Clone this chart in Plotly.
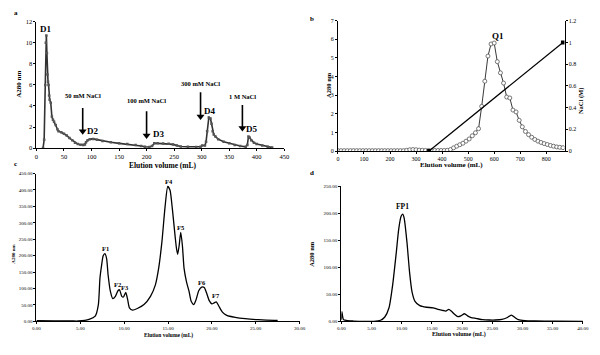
import plotly.graph_objects as go

# ---------------- Panel a: DEAE elution ----------------
a_vol = [12, 14, 16, 17, 18, 19, 20, 21, 22, 23, 24, 26, 28, 30, 32, 35, 38, 40, 45, 50, 55, 60, 65, 70, 75,
         80, 85, 88, 90, 93, 97, 103, 110, 120, 135, 150, 165, 180, 190, 197, 205, 210, 214, 220, 230, 240,
         248, 255, 262, 275, 290, 298, 301, 306, 308, 310, 313, 316, 318, 320, 322, 325, 330, 340, 350, 360,
         370, 380, 383, 385, 387, 390, 395, 400, 410, 420, 428]
a_abs = [0.0, 0.8, 6.0, 10.0, 10.7, 9.0, 7.0, 6.3, 6.0, 5.0, 4.6, 4.3, 3.0, 2.7, 2.5, 2.2, 1.8, 1.6, 1.5, 1.35,
         1.2, 0.95, 0.75, 0.5, 0.38, 0.32, 0.3, 0.35, 0.55, 0.75, 0.85, 0.87, 0.8, 0.68, 0.55, 0.45, 0.38, 0.3,
         0.2, 0.12, 0.1, 0.2, 0.45, 0.45, 0.43, 0.42, 0.35, 0.25, 0.15, 0.12, 0.1, 0.12, 0.25, 0.25, 0.6, 1.6,
         2.9, 2.8, 2.3, 1.6, 1.3, 1.1, 0.85, 0.6, 0.45, 0.3, 0.2, 0.12, 0.3, 1.1, 1.0, 0.75, 0.5, 0.38, 0.25,
         0.12, 0.05]
a_peaks = ["D1", "D2", "D3", "D4", "D5"]
a_peak_x = [18, 103, 223, 315, 392]
a_peak_y = [11.3, 1.6, 1.3, 3.5, 1.8]
a_steps = ["50 mM NaCl", "100 mM NaCl", "300 mM NaCl", "1 M NaCl"]
a_step_x = [84, 200, 298, 374]
a_step_top = [3.8, 3.5, 5.3, 4.1]
a_step_head = [1.6, 1.2, 3.0, 1.9]
a_step_text_y = [5.0, 4.5, 6.1, 4.9]

# ---------------- Panel b: Q-Sepharose ----------------
b_vol = list(range(0, 865, 12))
b_abs = [0.02] * 22 + [0.04, 0.07, 0.08, 0.07, 0.05, 0.04, 0.03, 0.03, 0.03, 0.03, 0.03, 0.03, 0.03, 0.04,
                       0.08, 0.17, 0.26, 0.34, 0.42, 0.53, 0.65, 0.82, 0.98, 1.2, 2.4, 3.75, 5.1, 5.75, 5.8,
                       4.8, 4.2, 3.65, 2.9, 2.85, 2.2, 2.1, 1.65, 1.3, 1.05, 0.88, 0.74, 0.62, 0.53, 0.46,
                       0.4, 0.35, 0.3, 0.26, 0.22, 0.2, 0.18]
b_nacl_vol = [350, 864]
b_nacl_conc = [0, 1]

# ---------------- Panel c: gel filtration ----------------
c_vol = [0, 2, 4, 4.8, 6.0, 6.7, 7.06, 7.24, 7.43, 7.6, 7.8, 8.0, 8.17, 8.43, 8.7, 9.0, 9.29, 9.47, 9.73,
         9.92, 10.18, 10.4, 10.6, 10.96, 11.5, 12.26, 13.0, 13.56, 13.93, 14.3, 14.67, 14.97, 15.23, 15.5,
         15.8, 15.97, 16.1, 16.27, 16.45, 16.64, 16.83, 17.1, 17.4, 17.64, 17.94, 18.2, 18.5, 18.84, 19.13,
         19.4, 19.7, 20.0, 20.25, 20.5, 20.8, 21.2, 21.7, 22.66, 23.8, 25.26, 27.1, 27.5]
c_abs = [2, 1, 1, 1, 6, 16, 51, 131, 171, 199, 206, 191, 141, 91, 69, 76, 93, 96, 76, 74, 88, 66, 41, 34,
         39, 51, 76, 111, 161, 241, 351, 411, 399, 341, 261, 221, 204, 231, 271, 231, 161, 121, 91, 61, 51,
         66, 93, 104, 103, 86, 63, 53, 56, 59, 46, 28, 18, 12, 8, 5, 3, 3]
c_peaks = ["F1", "F2", "F3", "F4", "F5", "F6", "F7"]
c_peak_x = [7.84, 9.29, 10.14, 15.08, 16.5, 18.85, 20.5]
c_peak_y = [222, 112, 102, 425, 285, 118, 78]

# ---------------- Panel d: second gel filtration ----------------
d_vol = [0, 0.1, 0.2, 0.35, 0.6, 1.0, 2.0, 5.4, 6.5, 7.2, 7.9, 8.5, 9.1, 9.5, 9.9, 10.16, 10.4, 10.87, 11.3,
         11.7, 12.2, 13.0, 14.1, 15.2, 16.0, 16.85, 17.3, 17.8, 18.2, 18.75, 19.3, 19.8, 20.4, 20.9, 21.5,
         22.3, 23.4, 24.5, 25.5, 26.6, 27.4, 28.15, 28.8, 29.3, 30.4, 32.0, 35.3, 40.0]
d_abs = [3, 18, 10, 3, 2, 1, 0.5, 0, 2, 8, 25, 67, 127, 170, 194, 198, 191, 146, 91, 55, 37, 29, 26, 25, 22,
         20, 19, 22, 19, 13, 8.5, 10, 14, 10, 7, 5.4, 3, 2.4, 2.4, 3.6, 6.6, 11.5, 6.6, 3, 1.2, 0.6, 0.3, 0]
d_peaks = ["FP1"]
d_peak_x = [10.2]
d_peak_y = [212]

SERIF = "Liberation Serif"

fig = go.Figure()
fig.add_trace(go.Scatter(x=a_vol, y=a_abs, xaxis="x", yaxis="y", mode="lines+markers",
                         line=dict(color="#333333", width=1.6),
                         marker=dict(size=2.5, color="#555555", symbol="square")))
# arrow shafts and heads of the NaCl step annotations
shaft_x, shaft_y = [], []
for x, top, head in zip(a_step_x, a_step_top, a_step_head):
    shaft_x += [x, x, None]
    shaft_y += [top, head, None]
fig.add_trace(go.Scatter(x=shaft_x, y=shaft_y, xaxis="x", yaxis="y", mode="lines",
                         line=dict(color="black", width=1.6)))
fig.add_trace(go.Scatter(x=a_step_x, y=a_step_head, xaxis="x", yaxis="y", mode="markers",
                         marker=dict(symbol="triangle-down", size=7, color="black")))
fig.add_trace(go.Scatter(x=b_nacl_vol, y=b_nacl_conc, xaxis="x2", yaxis="y5", mode="lines+markers",
                         line=dict(color="black", width=1.2),
                         marker=dict(size=4, color="black", symbol="square")))
fig.add_trace(go.Scatter(x=b_vol, y=b_abs, xaxis="x2", yaxis="y2", mode="lines+markers",
                         line=dict(color="#222222", width=0.9),
                         marker=dict(size=4, color="white", symbol="circle",
                                     line=dict(color="#555555", width=0.8))))
fig.add_trace(go.Scatter(x=c_vol, y=c_abs, xaxis="x3", yaxis="y3", mode="lines",
                         line=dict(color="black", width=1.3, shape="spline", smoothing=0.6)))
fig.add_trace(go.Scatter(x=d_vol, y=d_abs, xaxis="x4", yaxis="y4", mode="lines",
                         line=dict(color="black", width=1.3, shape="spline", smoothing=0.6)))


def ax(domain, rng, anchor, size, **kw):
    d = dict(domain=domain, range=rng, anchor=anchor, showline=True, linecolor="black", linewidth=1,
             ticks="outside", ticklen=2, tickwidth=1, tickcolor="black", showgrid=False, zeroline=False,
             tickfont=dict(family=SERIF, size=size, color="black"), fixedrange=True)
    d.update(kw)
    return d


fig.update_layout(
    width=600, height=355, margin=dict(l=0, r=0, t=0, b=0),
    paper_bgcolor="white", plot_bgcolor="white", showlegend=False,
    xaxis=ax([0.055, 0.475], [0, 450], "y", 6.5, dtick=50),
    yaxis=ax([0.586, 0.949], [0, 12], "x", 6.5, dtick=2),
    xaxis2=ax([0.566, 0.95], [0, 870], "y2", 6, tickvals=list(range(0, 801, 100))),
    yaxis2=ax([0.5775, 0.952], [0, 7], "x2", 6, dtick=1),
    yaxis5=ax([0.5775, 0.952], [0, 1.2], "x2", 6, dtick=0.2, overlaying="y2", side="right"),
    xaxis3=ax([0.055, 0.501], [0, 30], "y3", 5, dtick=5, tickformat=".2f"),
    yaxis3=ax([0.0882, 0.5127], [0, 450], "x3", 5, dtick=50, tickformat=".2f"),
    xaxis4=ax([0.5717, 0.9812], [0, 40], "y4", 5, dtick=5, tickformat=".2f"),
    yaxis4=ax([0.0882, 0.4769], [0, 250], "x4", 5, dtick=50, tickformat=".2f"),
)

ann = []


def ptxt(text, x, y, size, angle=0, bold=True):
    t = f"<b>{text}</b>" if bold else text
    ann.append(dict(text=t, x=x, y=y, xref="paper", yref="paper", showarrow=False, textangle=angle,
                    xanchor="center", yanchor="middle", font=dict(family=SERIF, size=size, color="black")))


# panel letters
ptxt("a", 0.02, 0.975, 7)
ptxt("b", 0.522, 0.958, 7)
ptxt("c", 0.02, 0.541, 7)
ptxt("d", 0.522, 0.515, 7)
# axis titles
ptxt("Elution volume (mL)", 0.27, 0.536, 7.5)
ptxt("A280 nm", 0.026, 0.769, 7, -90)
ptxt("Elution volume (mL)", 0.758, 0.538, 7)
ptxt("A280 nm", 0.55, 0.766, 6.5, -90)
ptxt("NaCl (M)", 0.978, 0.721, 6.5, -90)
ptxt("Elution volume (mL)", 0.278, 0.047, 5.5)
ptxt("A280 nm", 0.0167, 0.282, 5, -90)
ptxt("Elution volume (mL)", 0.772, 0.05, 6)
ptxt("A280 nm", 0.522, 0.282, 6.5, -90)

# panel a peak labels and step texts
for t, x, y in zip(a_peaks, a_peak_x, a_peak_y):
    ann.append(dict(text=f"<b>{t}</b>", x=x, y=y, xref="x", yref="y", showarrow=False,
                    font=dict(family=SERIF, size=9, color="black")))
for t, x, ty in zip(a_steps, a_step_x, a_step_text_y):
    ann.append(dict(text=f"<b>{t}</b>", x=x, y=ty, xref="x", yref="y", showarrow=False,
                    font=dict(family=SERIF, size=6.5, color="black")))
# panel b
ann.append(dict(text="<b>Q1</b>", x=614, y=6.2, xref="x2", yref="y2", showarrow=False,
                font=dict(family=SERIF, size=9, color="black")))
# panel c
for t, x, y in zip(c_peaks, c_peak_x, c_peak_y):
    ann.append(dict(text=f"<b>{t}</b>", x=x, y=y, xref="x3", yref="y3", showarrow=False,
                    font=dict(family=SERIF, size=6.5, color="black")))
# panel d
for t, x, y in zip(d_peaks, d_peak_x, d_peak_y):
    ann.append(dict(text=f"<b>{t}</b>", x=x, y=y, xref="x4", yref="y4", showarrow=False,
                    font=dict(family=SERIF, size=7.5, color="black")))

fig.update_layout(annotations=ann)
fig.write_html("out.html", config={"displayModeBar": False},
               post_script="document.body.style.margin='0';")
